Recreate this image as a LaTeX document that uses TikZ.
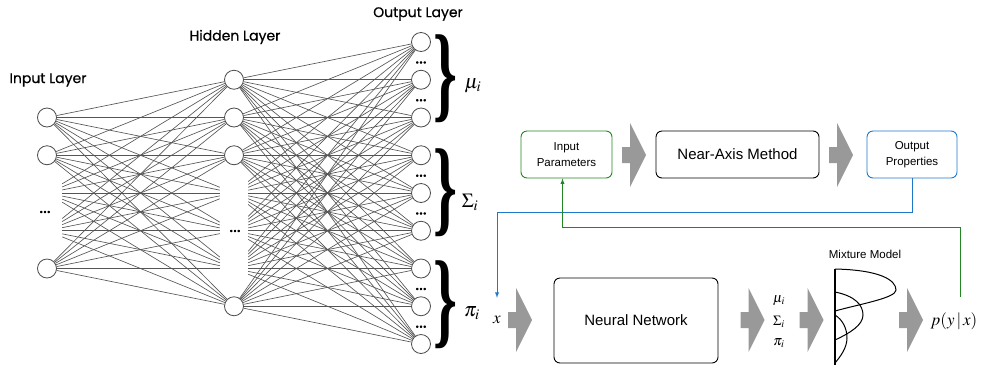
\documentclass[tikz,border=0pt]{standalone}
\usepackage{mathptmx}
\usepackage{fontspec}
\setmainfont{Liberation Sans}
\newfontfamily\layerfont{Poppins}[FakeBold=0.6]
\newfontfamily\bracefont{Liberation Serif}

\definecolor{paramgreen}{RGB}{34,135,34}
\definecolor{propblue}{RGB}{30,120,200}
\definecolor{blockgray}{RGB}{153,153,153}
\definecolor{wiregray}{RGB}{85,85,85}

\begin{document}
\begin{tikzpicture}[
        x=1pt, y=-1pt, >=latex,
        neuron/.style={circle, draw=black!70, line width=0.8pt, fill=white, minimum size=19pt, inner sep=0pt},
        ghost_slot/.style={rectangle, minimum width=28pt, minimum height=400pt, inner sep=0pt, overlay},
        synapse/.style={draw=wiregray, line width=0.65pt},
        layer_label/.style={font=\layerfont\fontsize{14}{16}\selectfont},
        dots_label/.style={font=\layerfont\fontsize{18}{20}\selectfont, inner sep=0pt},
        brace_label/.style={inner sep=0pt, font=\bracefont\bfseries},
        block/.style={rectangle, draw, line width=0.9pt, rounded corners=6pt, minimum height=47pt, align=center},
        math_label/.style={font=\fontsize{17}{20}\selectfont, inner sep=0pt},
        flowarrow/.pic={\fill[blockgray] (-12,-8) -- (-4,-8) -- (-4,-32) -- (12,0) -- (-4,32) -- (-4,8) -- (-12,8) -- cycle;}
    ]
        \useasboundingbox (0,0) rectangle (987,365);

        % Input layer: 1,2 and 5 drawn, 3 and 4 only give the wires
        \foreach \i in {1,2,5}
            \node[neuron] (in\i) at (47,{117.5+37.75*(\i-1)}) {};
        \foreach \i in {3,4}
            \node[ghost_slot, minimum width=30pt] (in\i) at (47,{117.5+37.75*(\i-1)}) {};

        % Hidden layer
        \foreach \j in {1,2,3,7}
            \node[neuron] (hid\j) at (234,{79.75+37.75*(\j-1)}) {};
        \foreach \j in {4,5,6}
            \node[ghost_slot] (hid\j) at (234,{79.75+37.75*(\j-1)}) {};

        % Output layer
        \foreach \k in {1,...,9}
            \node[neuron] (out\k) at (421,{42+37.75*(\k-1)}) {};

        % Wires
        \foreach \i in {1,...,5}
            \foreach \j in {1,...,7}
                \draw[synapse] (in\i) -- (hid\j);
        \foreach \j in {1,...,7}
            \foreach \k in {1,...,9}
                \draw[synapse] (hid\j) -- (out\k);

        \node[dots_label] (in_dots) at (45,212) {...};
        \node[dots_label] (hid_dots) at (235,231) {...};
        \foreach \k in {1,2,4,5,7,8}
            \node[dots_label] (out_dots\k) at (421,{62.5+37.75*(\k-1)}) {...};

        % Labels
        \node[layer_label] (in_label) at (48,80) {Input Layer};
        \node[layer_label] (hid_label) at (235,37) {Hidden Layer};
        \node[layer_label] (out_label) at (418,14) {Output Layer};

        % Braces
        \node[brace_label] (mu_brace) at (445,79) {\resizebox*{24pt}{88pt}{\}}};
        \node[brace_label] (sigma_brace) at (445,193) {\resizebox*{24pt}{88pt}{\}}};
        \node[brace_label] (pi_brace) at (445,305) {\resizebox*{24pt}{88pt}{\}}};
        \node[font=\fontsize{20}{22}\selectfont, inner sep=0pt] (mu_label) at (473,86) {$\mu_i$};
        \node[font=\fontsize{20}{22}\selectfont, inner sep=0pt] (sigma_label) at (470,202) {$\Sigma_i$};
        \node[font=\fontsize{20}{22}\selectfont, inner sep=0pt] (pi_label) at (472,313) {$\pi_i$};

        % Near-axis chain
        \node[block, draw=paramgreen, minimum width=91pt, font=\fontsize{11.5}{15.5}\selectfont] (inparam) at (566.5,154.5) {Input\\Parameters};
        \node[block, minimum width=163pt, font=\fontsize{15}{18}\selectfont] (nae) at (737.5,154.5) {Near-Axis Method};
        \node[block, draw=propblue, minimum width=90pt, font=\fontsize{11.5}{15.5}\selectfont] (outprop) at (912,154.5) {Output\\Properties};
        \pic at (634,155) {flowarrow};
        \pic at (841,155) {flowarrow};

        % Mixture density network chain
        \node[math_label, minimum height=44pt] (xin) at (497,320) {$x$};
        \pic at (520,320) {flowarrow};
        \node[block, minimum width=164pt, minimum height=85pt, font=\fontsize{15}{18}\selectfont] (nn) at (636,320.5) {Neural Network};
        \pic at (752.5,320) {flowarrow};
        \node[font=\fontsize{14}{18}\selectfont, inner sep=0pt] (mu_out) at (779,301) {$\mu_i$};
        \node[font=\fontsize{14}{18}\selectfont, inner sep=0pt] (sigma_out) at (779,322) {$\Sigma_i$};
        \node[font=\fontsize{14}{18}\selectfont, inner sep=0pt] (pi_out) at (779,343) {$\pi_i$};
        \pic at (811.5,320) {flowarrow};

        \draw[line width=1.1pt] (835,269) -- (835,365);
        \draw[line width=1pt] (835,269) .. controls (880,270) and (896,280) .. (896,290) .. controls (896,298) and (860,304) .. (835,311);
        \draw[line width=1pt] (835,292) .. controls (855,296) and (863,305) .. (863,315) .. controls (863,325) and (850,333) .. (835,340);
        \draw[line width=1pt] (835,315) .. controls (843,320) and (847,329) .. (847,338) .. controls (847,348) and (840,357) .. (835,363);
        \node[font=\fontsize{11.5}{14}\selectfont] (mix_label) at (865,254) {Mixture Model};

        \pic at (911,320) {flowarrow};
        \node[math_label, minimum height=48pt] (pyx) at (954,321) {$p(y\,|\,x)$};

        % Feedback
        \coordinate (blue_turn) at (0,212);
        \coordinate (green_turn) at (0,227);
        \draw[->, propblue, line width=0.9pt] (outprop.south) -- (outprop.south |- blue_turn) -| (xin.north);
        \draw[->, paramgreen, line width=0.9pt] ([xshift=6pt]pyx.north) -- ([xshift=6pt]pyx.north |- green_turn) -| ([xshift=-4pt]inparam.south);

    \end{tikzpicture}
\end{document}
